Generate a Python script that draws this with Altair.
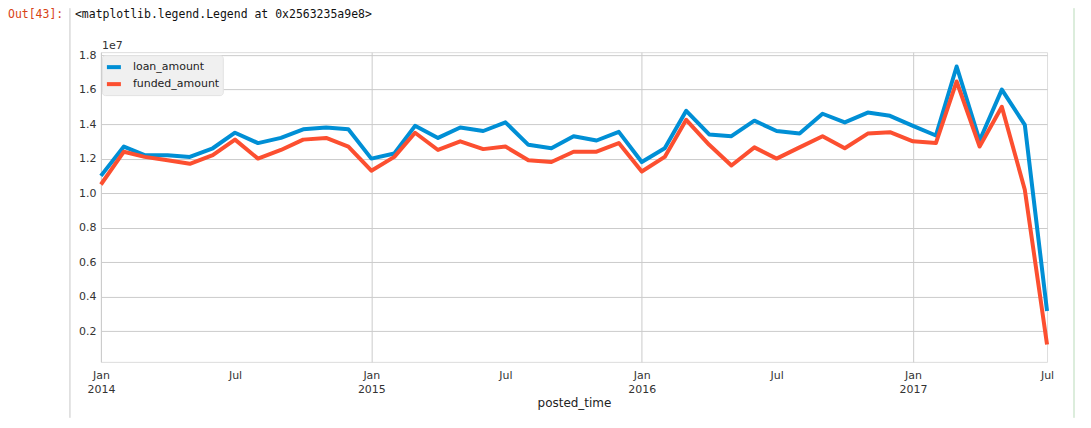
import altair as alt
import pandas as pd

months = [f"{y}-{m:02d}-01" for y in range(2014, 2018) for m in range(1, 13)][:43]

loan_amount = [
    11000000, 12700000, 12200000, 12200000, 12100000, 12600000, 13500000, 12900000, 13200000, 13700000, 13800000, 13700000,
    12000000, 12300000, 13900000, 13200000, 13800000, 13600000, 14100000, 12800000, 12600000, 13300000, 13050000, 13550000,
    11800000, 12600000, 14770000, 13400000, 13300000, 14200000, 13600000, 13450000, 14600000, 14100000, 14670000, 14480000,
    13900000, 13340000, 17340000, 13050000, 16000000, 13960000, 3170000,
]
funded_amount = [
    10500000, 12400000, 12100000, 11900000, 11700000, 12200000, 13100000, 12000000, 12500000, 13100000, 13200000, 12700000,
    11300000, 12100000, 13500000, 12500000, 13000000, 12550000, 12700000, 11900000, 11800000, 12400000, 12400000, 12900000,
    11250000, 12100000, 14250000, 12800000, 11600000, 12650000, 12000000, 12650000, 13300000, 12600000, 13450000, 13530000,
    13000000, 12900000, 16470000, 12700000, 15000000, 10200000, 1230000,
]
series_names = ["loan_amount", "funded_amount"]
series_colors = ["#008fd5", "#fc4f30"]
y_ticks = [2000000, 4000000, 6000000, 8000000, 10000000, 12000000, 14000000, 16000000, 18000000]

df = pd.DataFrame({"posted_time": months, "loan_amount": loan_amount, "funded_amount": funded_amount})

x_vals = []
for yr in range(2014, 2018):
    x_vals.append(alt.DateTime(year=yr, month=1, date=1, utc=True))
    x_vals.append(alt.DateTime(year=yr, month=7, date=1, utc=True))

font = "DejaVu Sans"

x_enc = alt.X(
    "posted_time:T",
    title="posted_time",
    scale=alt.Scale(type="utc", domain=[alt.DateTime(year=2014, month=1, date=1, utc=True),
                                        alt.DateTime(year=2017, month=7, date=1, utc=True)]),
    axis=alt.Axis(
        values=x_vals,
        labelExpr="utcmonth(datum.value) == 0 ? ['Jan', utcFormat(datum.value, '%Y')] : 'Jul'",
        ticks=False, domain=False,
        gridColor="#cbcbcb",
        gridOpacity={"condition": {"test": "utcmonth(datum.value) == 0", "value": 1}, "value": 0},
        labelFont=font, labelFontSize=11, labelColor="#333333",
        labelPadding=8, labelLineHeight=14, labelFlush=False, labelOverlap=False,
        titleFont=font, titleFontSize=12, titleFontWeight="normal", titleColor="#222222",
        titlePadding=3,
    ),
)
y_enc = alt.Y(
    "amount:Q",
    scale=alt.Scale(domain=[220000, 18170000], nice=False, zero=False),
    axis=alt.Axis(
        values=y_ticks, labelExpr="format(datum.value / 10000000, '.1f')",
        title=None, ticks=False, domain=False, gridColor="#cbcbcb",
        labelFont=font, labelFontSize=11, labelColor="#333333", labelPadding=5,
    ),
)
color_enc = alt.Color(
    "series:N",
    scale=alt.Scale(domain=series_names, range=series_colors),
    legend=alt.Legend(
        title=None, orient="none", legendX=1, legendY=3,
        symbolType="stroke", symbolSize=196, symbolStrokeWidth=4,
        labelFont=font, labelFontSize=11, labelColor="#222222", labelOffset=10,
        padding=3, rowPadding=0, fillColor="#f0f0f0", strokeColor="#e2e2e2",
        cornerRadius=3,
    ),
)

base = alt.Chart(df).transform_fold(series_names, as_=["series", "amount"])
lines = [
    base.transform_filter(alt.datum.series == s)
        .mark_line(strokeWidth=4, strokeJoin="round")
        .encode(x=x_enc, y=y_enc, color=color_enc)
    for s in series_names
]

one = pd.DataFrame({"k": [0]})
exp_text = alt.Chart(one).mark_text(text="1e7", align="left", baseline="alphabetic",
                                    font=font, fontSize=11, color="#333333").encode(
    x=alt.value(1), y=alt.value(-3))
out_text = alt.Chart(one).mark_text(text="Out[43]:", align="left", baseline="middle",
                                    font="DejaVu Sans Mono", fontSize=11.5, color="#D84315").encode(
    x=alt.value(-93), y=alt.value(-37))
repr_text = alt.Chart(one).mark_text(text="<matplotlib.legend.Legend at 0x2563235a9e8>", align="left",
                                     baseline="middle", font="DejaVu Sans Mono", fontSize=11.5,
                                     color="#111111").encode(
    x=alt.value(-26), y=alt.value(-37))
left_border = alt.Chart(one).mark_rule(color="#c8c8c8", strokeWidth=1).encode(
    x=alt.value(-31), y=alt.value(-44), y2=alt.value(366))
right_border = alt.Chart(one).mark_rule(color="#b9dbb9", strokeWidth=1).encode(
    x=alt.value(974), y=alt.value(-44), y2=alt.value(366))

chart = alt.layer(*lines, exp_text, out_text, repr_text, left_border, right_border).properties(
    width=947, height=310,
    autosize=alt.AutoSizeParams(type="none"),
    padding={"left": 93, "top": 44, "right": 36, "bottom": 60},
).configure_view(fill="#f0f0f0", stroke="transparent").configure(background="white")

chart.save("out.html", embed_options={"renderer": "svg", "actions": False})
